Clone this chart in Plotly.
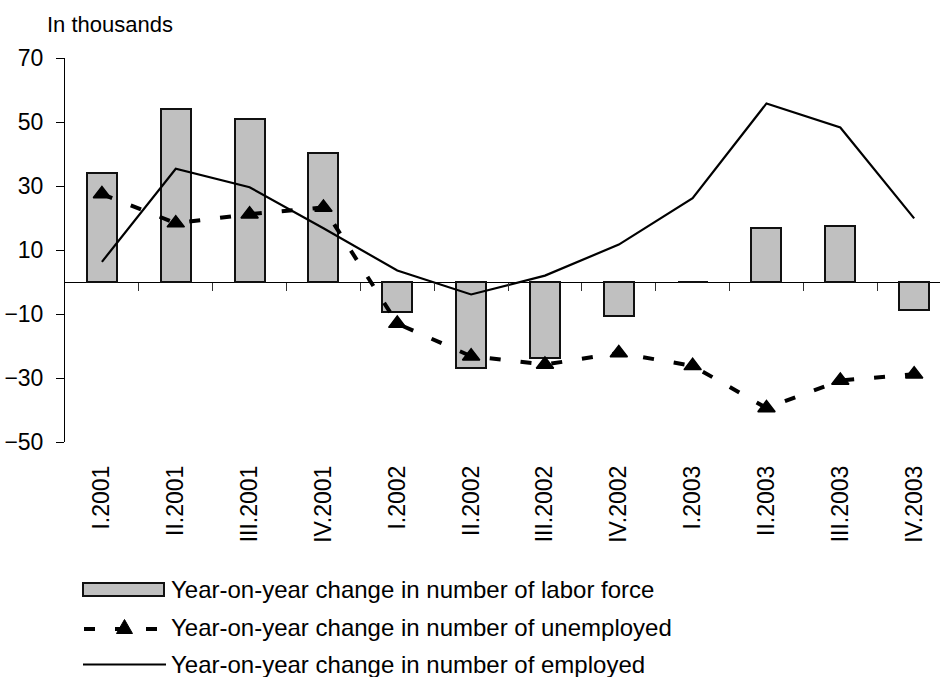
import plotly.graph_objects as go

# Quarterly year-on-year changes, in thousands
quarters = ["I.2001", "II.2001", "III.2001", "IV.2001",
            "I.2002", "II.2002", "III.2002", "IV.2002",
            "I.2003", "II.2003", "III.2003", "IV.2003"]
labor_force = [34, 54, 51, 40.3, -9.4, -27, -23.8, -10.7, 0, 16.8, 17.4, -8.8]
unemployed = [27.5, 18.4, 21.2, 23.3, -13, -23.2, -25.8, -22.2, -26.2, -39.4, -30.8, -28.8]
employed = [6.3, 35.4, 29.6, 16.8, 3.6, -3.9, 2.0, 11.7, 26.2, 55.8, 48.3, 19.9]

y_ticks = [-50, -30, -10, 10, 30, 50, 70]
legend_labels = ["Year-on-year change in number of labor force",
                 "Year-on-year change in number of unemployed",
                 "Year-on-year change in number of employed"]
unit_label = "In thousands"

W, H = 940, 677
ML, MR, MT, MB = 65, 0, 58, 235
PW, PH = W - ML - MR, H - MT - MB
FONT = "Arial, Liberation Sans, sans-serif"

xpos = list(range(len(quarters)))
x_range = [-0.5, 11.35]


def px_x(px):
    return (px - ML) / PW


def px_y(py):
    return (H - MB - py) / PH


fig = go.Figure()

fig.add_trace(go.Bar(
    x=xpos, y=labor_force, width=0.406,
    marker=dict(color="#c0c0c0", line=dict(color="#111111", width=2)),
    name=legend_labels[0], showlegend=False, hoverinfo="skip",
))

fig.add_trace(go.Scatter(
    x=xpos, y=unemployed, mode="lines+markers",
    line=dict(color="black", width=4, dash="11px,20px"),
    marker=dict(symbol="triangle-up", size=15, color="black",
                line=dict(color="black", width=1.5)),
    name=legend_labels[1], showlegend=False, hoverinfo="skip",
))

fig.add_trace(go.Scatter(
    x=xpos, y=employed, mode="lines", xaxis="x2",
    line=dict(color="black", width=2.2),
    name=legend_labels[2], showlegend=False, hoverinfo="skip",
))

# hand-drawn legend below the plot
row_y = [589.5, 627.5, 664.5]
shapes = []
shapes.append(dict(type="rect", xref="paper", yref="paper",
                   x0=px_x(83), x1=px_x(164), y0=px_y(row_y[0] + 6.5), y1=px_y(row_y[0] - 6.5),
                   fillcolor="#c0c0c0", line=dict(color="#111111", width=2)))
shapes.append(dict(type="line", xref="paper", yref="paper",
                   x0=px_x(84), x1=px_x(165), y0=px_y(row_y[1] + 1.5), y1=px_y(row_y[1] + 1.5),
                   line=dict(color="black", width=4, dash="11px,20px")))
tx, ty, tw, th = 124.5, row_y[1] - 1, 16, 14
tri = "M {:.5f},{:.5f} L {:.5f},{:.5f} L {:.5f},{:.5f} Z".format(
    px_x(tx - tw / 2), px_y(ty + th / 2),
    px_x(tx + tw / 2), px_y(ty + th / 2),
    px_x(tx), px_y(ty - th / 2))
shapes.append(dict(type="path", xref="paper", yref="paper", path=tri,
                   fillcolor="black", line=dict(color="black", width=1)))
shapes.append(dict(type="line", xref="paper", yref="paper",
                   x0=px_x(83), x1=px_x(166), y0=px_y(row_y[2]), y1=px_y(row_y[2]),
                   line=dict(color="black", width=2)))

annotations = []
for label, yy in zip(legend_labels, row_y):
    annotations.append(dict(text=label, xref="paper", yref="paper",
                            x=px_x(169), y=px_y(yy), xanchor="left", yanchor="middle",
                            showarrow=False, font=dict(size=24, color="black", family=FONT)))
annotations.append(dict(text=unit_label, xref="paper", yref="paper",
                        x=px_x(45), y=px_y(24.8), xanchor="left", yanchor="middle",
                        showarrow=False, font=dict(size=22, color="black", family=FONT)))

fig.update_layout(
    width=W, height=H,
    margin=dict(l=ML, r=MR, t=MT, b=MB, pad=0),
    paper_bgcolor="white", plot_bgcolor="white",
    font=dict(family=FONT, color="black"),
    showlegend=False,
    bargap=0,
    xaxis=dict(
        range=x_range, tickmode="array", tickvals=xpos, ticktext=quarters,
        tickangle=-90, ticks="", showline=False, showgrid=False, zeroline=False,
        tickfont=dict(size=23, color="black"), ticklabelstandoff=18,
    ),
    xaxis2=dict(
        range=x_range, overlaying="x", anchor="free",
        position=(0 - y_ticks[0]) / (y_ticks[-1] - y_ticks[0]),
        tickmode="array", tickvals=[i + 0.5 for i in xpos],
        ticks="outside", ticklen=8, tickwidth=1, tickcolor="#333333",
        showticklabels=False, showline=False, showgrid=False, zeroline=False,
    ),
    yaxis=dict(
        range=[y_ticks[0], y_ticks[-1]], tickmode="array", tickvals=y_ticks,
        ticks="outside", ticklen=8, tickwidth=1, tickcolor="black",
        showline=True, linecolor="black", linewidth=1,
        showgrid=False, zeroline=True, zerolinecolor="black", zerolinewidth=1,
        tickfont=dict(size=23, color="black"), ticklabelstandoff=8,
    ),
    shapes=shapes,
    annotations=annotations,
)

fig.write_html("out.html")
